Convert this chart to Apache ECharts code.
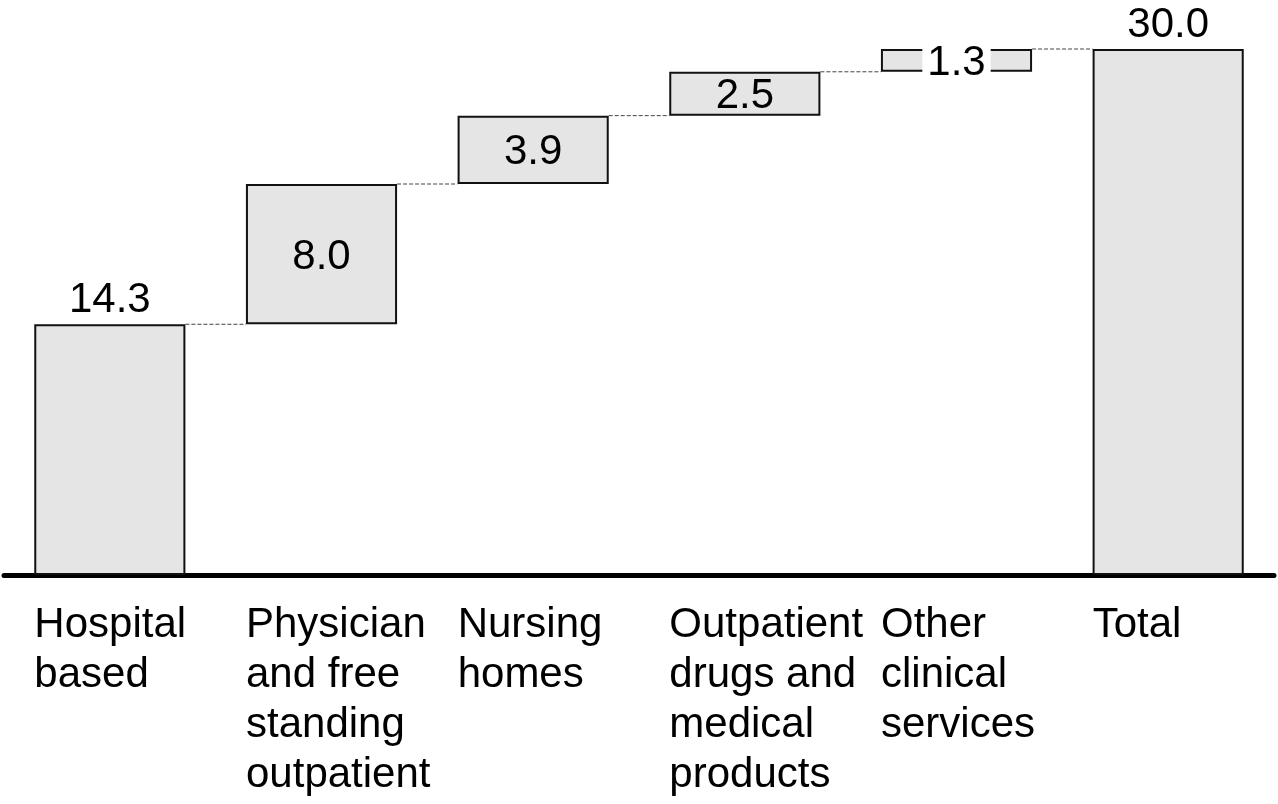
<!DOCTYPE html>
<html>
<head>
<meta charset="utf-8">
<script src="https://cdn.jsdelivr.net/npm/echarts@6/dist/echarts.min.js"></script>
<style>
  html, body { margin: 0; padding: 0; background: #fff; }
  #chart { width: 1278px; height: 804px; }
</style>
</head>
<body>
<div id="chart"></div>
<script>
const categories = [
  'Hospital\nbased',
  'Physician\nand free\nstanding\noutpatient',
  'Nursing\nhomes',
  'Outpatient\ndrugs and\nmedical\nproducts',
  'Other\nclinical\nservices',
  'Total'
];
const values = [14.3, 8.0, 3.9, 2.5, 1.3, 30.0];
const isTotal = [false, false, false, false, false, true];

// invisible offsets for the floating bars
const bases = [];
let running = 0;
values.forEach((v, i) => {
  if (isTotal[i]) { bases.push(0); running = v; }
  else { bases.push(running); running += v; }
});
const tops = values.map((v, i) => bases[i] + v);

const BAR_RATIO = 0.714;
const FONT = 'Liberation Sans, Arial, sans-serif';
const FS = 42;

const chart = echarts.init(document.getElementById('chart'));

const option = {
  animation: false,
  grid: { left: 4, right: 4, top: 49, bottom: 229, containLabel: false },
  xAxis: {
    type: 'category',
    data: categories,
    axisLine: { lineStyle: { color: '#000', width: 5, cap: 'round' } },
    axisTick: { show: false },
    axisLabel: {
      interval: 0,
      margin: 25,
      formatter: (val) => val.split('\n').map(s => '{a|' + s + '}').join('\n'),
      rich: {
        a: {
          width: 151,
          align: 'left',
          fontSize: FS,
          lineHeight: 50,
          color: '#000',
          fontFamily: FONT
        }
      }
    }
  },
  yAxis: {
    type: 'value',
    min: 0,
    max: 30,
    show: false,
    splitLine: { show: false }
  },
  series: [
    {
      type: 'bar',
      stack: 'wf',
      data: bases,
      barWidth: (BAR_RATIO * 100) + '%',
      itemStyle: { color: 'transparent', borderColor: 'transparent' },
      silent: true
    },
    {
      type: 'bar',
      stack: 'wf',
      data: values.map((v, i) => {
        const inside = !(i === 0 || isTotal[i]);
        return {
          value: v,
          label: inside
            ? {
                position: 'inside',
                offset: [0, 3],
                // the thin bar gets a white backing so the text breaks its outline
                backgroundColor: i === 4 ? '#fff' : 'transparent',
                padding: [0, 5],
                lineHeight: 30
              }
            : { position: 'top', distance: 3 }
        };
      }),
      barWidth: (BAR_RATIO * 100) + '%',
      itemStyle: { color: '#e5e5e5', borderColor: '#111', borderWidth: 2 },
      label: {
        show: true,
        formatter: (p) => p.value.toFixed(1),
        fontSize: FS,
        color: '#000',
        fontFamily: FONT
      }
    },
    {
      type: 'custom',
      data: tops.slice(0, -1).map((t, i) => [i, t]),
      z: 1,
      silent: true,
      renderItem: (params, api) => {
        const i = api.value(0);
        const lvl = api.value(1);
        const p1 = api.coord([i, lvl]);
        const p2 = api.coord([i + 1, lvl]);
        const hw = api.size([1, 0])[0] * BAR_RATIO / 2;
        return {
          type: 'line',
          shape: { x1: p1[0] + hw, y1: p1[1], x2: p2[0] - hw, y2: p2[1] },
          style: { stroke: '#444', lineWidth: 1, lineDash: [4, 2] }
        };
      }
    }
  ]
};

chart.setOption(option);
</script>
</body>
</html>
